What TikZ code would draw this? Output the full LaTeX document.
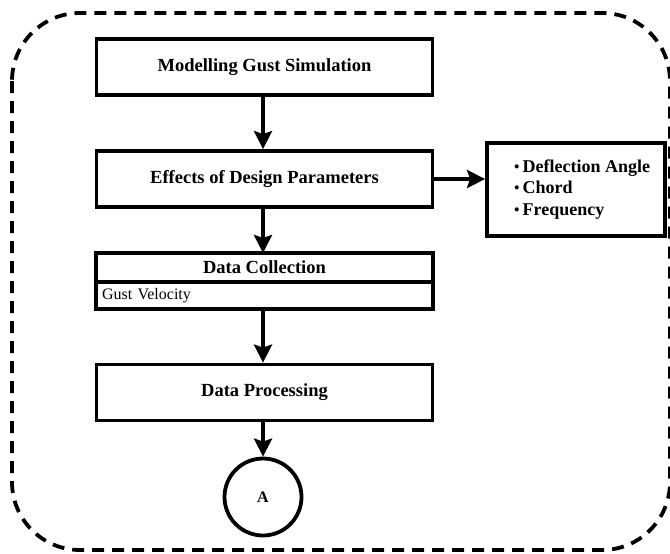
\documentclass[tikz,border=0pt]{standalone}
\usepackage{fontspec}
\setmainfont{Liberation Serif}
\usetikzlibrary{arrows.meta}
\tikzset{
  frame/.style={draw, line width=3.8pt, dash pattern=on 12pt off 8pt, rounded corners=68pt},
  stepbox/.style={draw, line width=3.8pt, minimum width=336pt, minimum height=56pt, inner sep=0pt,
    font=\bfseries\fontsize{18.5}{21}\selectfont},
  headbox/.style={draw, line width=3.8pt, minimum width=337pt, inner sep=0pt, outer sep=0pt},
  listbox/.style={draw, line width=3.8pt, minimum width=178pt, minimum height=93pt, inner sep=0pt,
    align=left, font=\bfseries\fontsize{18}{21.5}\selectfont},
  endmark/.style={draw, circle, line width=3.8pt, minimum size=77pt, inner sep=0pt,
    font=\bfseries\fontsize{16}{18}\selectfont},
  arr/.style={line width=3.8pt, -{Stealth[length=18pt, width=18pt, inset=3pt]}}
}
\newcommand{\itemdot}{{\mdseries\fontsize{17}{17}\selectfont •}\,}
\begin{document}
\begin{tikzpicture}[x=1pt, y=-1pt]
  \useasboundingbox (0,0) rectangle (670,554);
  % dashed enclosure
  \draw[frame] (12,13) rectangle (670,550);

  % main flow
  \node[stepbox] (model) at (264.5,67) {Modelling Gust Simulation};
  \node[stepbox] (effects) at (264.5,179) {Effects of Design Parameters};
  \node[listbox] (params) at (576,189.5)
    {\hspace*{12pt}\itemdot Deflection Angle\\
     \hspace*{12pt}\itemdot Chord\\
     \hspace*{12pt}\itemdot Frequency};

  \node[headbox, minimum height=29pt, font=\bfseries\fontsize{18.5}{21}\selectfont]
    (collect) at (264.5,267.5) {Data Collection};
  \node[headbox, minimum height=27pt, anchor=north, inner xsep=6pt, text width=325pt, align=left,
    font=\fontsize{16}{18}\selectfont] (gust) at (collect.south) {Gust Velocity};

  \node[stepbox] (process) at (264.5,392.5) {Data Processing};
  \node[endmark] (A) at (263,497) {A};

  % connectors
  \draw[arr] (model.south -| A.north) -- (effects.north -| A.north);
  \draw[arr] (effects.east) -- (effects.east -| params.west);
  \draw[arr] (effects.south -| A.north) -- (collect.north -| A.north);
  \draw[arr] (gust.south -| A.north) -- (process.north -| A.north);
  \draw[arr] (process.south -| A.north) -- (A);
\end{tikzpicture}
\end{document}
